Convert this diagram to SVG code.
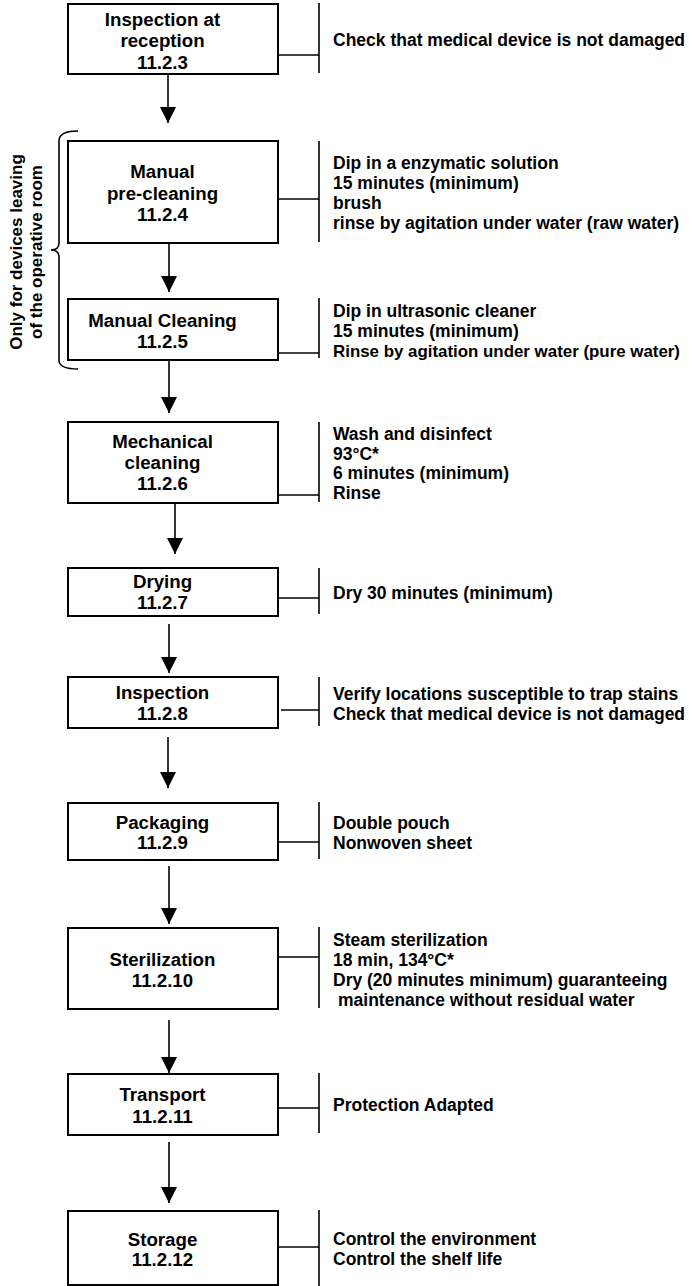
<svg xmlns="http://www.w3.org/2000/svg" width="689" height="1286" viewBox="0 0 689 1286">
<style>
  text { font-family: "Liberation Sans", Arial, sans-serif; font-weight: bold; fill: #000; }
  .bt { font-size: 18.7px; text-anchor: middle; }
  .dt { font-size: 17.5px; }
  .rt { font-size: 17px; text-anchor: middle; }
  .box { fill: #fff; stroke: #000; stroke-width: 2; }
  .ln { stroke: #000; stroke-width: 1.6; fill: none; }
  .arr { stroke: #000; stroke-width: 1.6; fill: none; marker-end: url(#ah); }
</style>
<defs>
  <marker id="ah" markerUnits="userSpaceOnUse" markerWidth="16" markerHeight="16" refX="16" refY="8" orient="auto" viewBox="0 0 16 16">
    <path d="M0,0 L16,8 L0,16 z" fill="#000"/>
  </marker>
</defs>
<rect width="689" height="1286" fill="#fff"/>

<g id="connectors">
  <line class="arr" x1="168" y1="74" x2="168" y2="123"/>
  <line class="arr" x1="169" y1="243" x2="169" y2="292"/>
  <line class="arr" x1="169" y1="361" x2="169" y2="413"/>
  <line class="arr" x1="175" y1="503" x2="175" y2="554"/>
  <line class="arr" x1="169" y1="624" x2="169" y2="673"/>
  <line class="arr" x1="168" y1="737" x2="168" y2="788"/>
  <line class="arr" x1="169" y1="866" x2="169" y2="924"/>
  <line class="arr" x1="169" y1="1020" x2="169" y2="1073"/>
  <line class="arr" x1="169" y1="1142" x2="169" y2="1203"/>
  <!-- side links -->
  <line class="ln" x1="278" y1="55" x2="319" y2="55"/>
  <line class="ln" x1="278" y1="199" x2="319" y2="199"/>
  <line class="ln" x1="278" y1="353" x2="319" y2="353"/>
  <line class="ln" x1="278" y1="495" x2="319" y2="495"/>
  <line class="ln" x1="278" y1="598" x2="319" y2="598"/>
  <line class="ln" x1="281" y1="710" x2="319" y2="710"/>
  <line class="ln" x1="278" y1="842" x2="319" y2="842"/>
  <line class="ln" x1="276" y1="957" x2="319" y2="957"/>
  <line class="ln" x1="278" y1="1108" x2="319" y2="1108"/>
  <line class="ln" x1="278" y1="1247" x2="319" y2="1247"/>
</g>

<g id="bars">
  <line class="ln" x1="319" y1="3" x2="319" y2="73"/>
  <line class="ln" x1="319" y1="141" x2="319" y2="242"/>
  <line class="ln" x1="319" y1="298" x2="319" y2="358"/>
  <line class="ln" x1="319" y1="422" x2="319" y2="502"/>
  <line class="ln" x1="319" y1="568" x2="319" y2="614"/>
  <line class="ln" x1="319" y1="677" x2="319" y2="726"/>
  <line class="ln" x1="319" y1="802" x2="319" y2="859"/>
  <line class="ln" x1="319" y1="927" x2="319" y2="1008"/>
  <line class="ln" x1="319" y1="1073" x2="319" y2="1133"/>
  <line class="ln" x1="319" y1="1210" x2="319" y2="1286"/>
</g>

<g id="bracket">
  <path class="ln" d="M78,131 Q60,131 59,140 L59,243 Q59,250 51,250 Q59,250 59,257 L59,361 Q60,369 78,369"/>
  <text class="rt" transform="translate(21.5,252) rotate(-90)">Only for devices leaving</text>
  <text class="rt" transform="translate(41.5,252) rotate(-90)">of the operative room</text>
</g>

<g id="n1">
  <rect class="box" x="68" y="4" width="210" height="70"/>
  <text class="bt" x="162.5" y="26">Inspection at</text>
  <text class="bt" x="162.5" y="47">reception</text>
  <text class="bt" x="162.5" y="68.5">11.2.3</text>
  <text class="dt" x="333" y="46.3">Check that medical device is not damaged</text>
</g>

<g id="n2">
  <rect class="box" x="68" y="141" width="210" height="102"/>
  <text class="bt" x="162.5" y="178.4">Manual</text>
  <text class="bt" x="162.5" y="199.7">pre-cleaning</text>
  <text class="bt" x="162.5" y="220.7">11.2.4</text>
  <text class="dt" x="333" y="169">Dip in a enzymatic solution</text>
  <text class="dt" x="333" y="189">15 minutes (minimum)</text>
  <text class="dt" x="333" y="209">brush</text>
  <text class="dt" x="333" y="229">rinse by agitation under water (raw water)</text>
</g>

<g id="n3">
  <rect class="box" x="68" y="299" width="210" height="61"/>
  <text class="bt" x="162.5" y="326.7">Manual Cleaning</text>
  <text class="bt" x="162.5" y="347.7">11.2.5</text>
  <text class="dt" x="333" y="317">Dip in ultrasonic cleaner</text>
  <text class="dt" x="333" y="337">15 minutes (minimum)</text>
  <text class="dt" x="333" y="357" style="font-size:17px" textLength="347" lengthAdjust="spacingAndGlyphs">Rinse by agitation under water (pure water)</text>
</g>

<g id="n4">
  <rect class="box" x="68" y="422" width="210" height="81"/>
  <text class="bt" x="162.5" y="447.7">Mechanical</text>
  <text class="bt" x="162.5" y="469.4">cleaning</text>
  <text class="bt" x="162.5" y="490">11.2.6</text>
  <text class="dt" x="333" y="440">Wash and disinfect</text>
  <text class="dt" x="333" y="459.5">93°C*</text>
  <text class="dt" x="333" y="479">6 minutes (minimum)</text>
  <text class="dt" x="333" y="498.5">Rinse</text>
</g>

<g id="n5">
  <rect class="box" x="68" y="568" width="210" height="48"/>
  <text class="bt" x="162.5" y="588.4">Drying</text>
  <text class="bt" x="162.5" y="609.4">11.2.7</text>
  <text class="dt" x="333" y="598.6">Dry 30 minutes (minimum)</text>
</g>

<g id="n6">
  <rect class="box" x="68" y="677" width="210" height="51"/>
  <text class="bt" x="162.5" y="699.4">Inspection</text>
  <text class="bt" x="162.5" y="720">11.2.8</text>
  <text class="dt" x="333" y="699.6">Verify locations susceptible to trap stains</text>
  <text class="dt" x="333" y="719.6">Check that medical device is not damaged</text>
</g>

<g id="n7">
  <rect class="box" x="68" y="803" width="210" height="57"/>
  <text class="bt" x="162.5" y="829">Packaging</text>
  <text class="bt" x="162.5" y="849">11.2.9</text>
  <text class="dt" x="333" y="828.6">Double pouch</text>
  <text class="dt" x="333" y="848.6">Nonwoven sheet</text>
</g>

<g id="n8">
  <rect class="box" x="68" y="928" width="210" height="81"/>
  <text class="bt" x="162.5" y="966">Sterilization</text>
  <text class="bt" x="162.5" y="986.7">11.2.10</text>
  <text class="dt" x="333" y="945.6">Steam sterilization</text>
  <text class="dt" x="333" y="965.6">18 min, 134°C*</text>
  <text class="dt" x="333" y="986.3">Dry (20 minutes minimum) guaranteeing</text>
  <text class="dt" x="338" y="1005.6">maintenance without residual water</text>
</g>

<g id="n9">
  <rect class="box" x="68" y="1074" width="210" height="61"/>
  <text class="bt" x="162.5" y="1100.7">Transport</text>
  <text class="bt" x="162.5" y="1122.7">11.2.11</text>
  <text class="dt" x="333" y="1111.3">Protection Adapted</text>
</g>

<g id="n10">
  <rect class="box" x="68" y="1211" width="210" height="74"/>
  <text class="bt" x="162.5" y="1245.7">Storage</text>
  <text class="bt" x="162.5" y="1265.7">11.2.12</text>
  <text class="dt" x="333" y="1245.3">Control the environment</text>
  <text class="dt" x="333" y="1265.3">Control the shelf life</text>
</g>
</svg>
